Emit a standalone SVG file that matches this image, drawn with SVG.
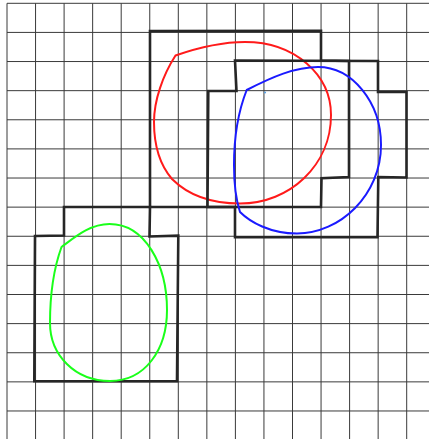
<svg xmlns="http://www.w3.org/2000/svg" width="429" height="439" viewBox="0 0 429 439">
<style>
.grid line{stroke:#3a3a3a;stroke-width:1}
.poly{fill:none;stroke:#262626;stroke-width:2.6;stroke-linejoin:miter}
.curve{fill:none;stroke-width:2}
</style>
<rect width="429" height="439" fill="#ffffff"/>
<g id="grid" class="grid">
<line x1="7" y1="3.3" x2="7" y2="439"/>
<line x1="35.55" y1="3.3" x2="35.55" y2="439"/>
<line x1="64.1" y1="3.3" x2="64.1" y2="439"/>
<line x1="92.65" y1="3.3" x2="92.65" y2="439"/>
<line x1="121.2" y1="3.3" x2="121.2" y2="439"/>
<line x1="149.75" y1="3.3" x2="149.75" y2="439"/>
<line x1="178.3" y1="3.3" x2="178.3" y2="439"/>
<line x1="206.85" y1="3.3" x2="206.85" y2="439"/>
<line x1="235.4" y1="3.3" x2="235.4" y2="439"/>
<line x1="263.95" y1="3.3" x2="263.95" y2="439"/>
<line x1="292.5" y1="3.3" x2="292.5" y2="439"/>
<line x1="321.05" y1="3.3" x2="321.05" y2="439"/>
<line x1="349.6" y1="3.3" x2="349.6" y2="439"/>
<line x1="378.15" y1="3.3" x2="378.15" y2="439"/>
<line x1="406.7" y1="3.3" x2="406.7" y2="439"/>
<line x1="7" y1="3.3" x2="429" y2="3.3"/>
<line x1="7" y1="32.42" x2="429" y2="32.42"/>
<line x1="7" y1="61.54" x2="429" y2="61.54"/>
<line x1="7" y1="90.66" x2="429" y2="90.66"/>
<line x1="7" y1="119.78" x2="429" y2="119.78"/>
<line x1="7" y1="148.9" x2="429" y2="148.9"/>
<line x1="7" y1="178.02" x2="429" y2="178.02"/>
<line x1="7" y1="207.14" x2="429" y2="207.14"/>
<line x1="7" y1="236.26" x2="429" y2="236.26"/>
<line x1="7" y1="265.38" x2="429" y2="265.38"/>
<line x1="7" y1="294.5" x2="429" y2="294.5"/>
<line x1="7" y1="323.62" x2="429" y2="323.62"/>
<line x1="7" y1="352.74" x2="429" y2="352.74"/>
<line x1="7" y1="381.86" x2="429" y2="381.86"/>
<line x1="7" y1="410.98" x2="429" y2="410.98"/>
</g>
<g id="region-red">
<polygon class="poly" points="150,31 321,30.7 321,60.5 349,61 349,177 321.5,178.3 321,207 150,207"/>
<path class="curve" stroke="#ff1a1a" d="M175.5,55.5 C200,47 225,42 245,42 C295,42 331,75 331,115 C331,165 290,203.5 240,203.5 C205,203.5 185,192 172,179 C160,165 154,145 154,122 C154,100 163,75 175.5,55.5 Z"/>
</g>
<g id="region-blue">
<polygon class="poly" points="235,60.5 378,61 378,92 406.5,92 406.5,177.5 378.3,177 377.5,237.3 235,237.3 235,207 207.5,207 208.3,91 236.5,91"/>
<path class="curve" stroke="#1a1aff" d="M246.7,90 C272,77 295,67 318,67 C352,67 381,102 381,145 C381,195 340,233.5 297,233.5 C270,233.5 250,222 240,212 C236,200 234,185 234,165 C234,135 238,112 246.7,90 Z"/>
<circle cx="265" cy="92.5" r="1.1" fill="#5aa0e0"/>
</g>
<g id="region-green">
<polygon class="poly" points="35,236 64,235.5 64,207 150,207 149.5,236.5 178.3,235.7 177,381.3 34.3,381.3"/>
<path class="curve" stroke="#1aff1a" d="M61.5,247 C75,237 90,224 109.5,224 C145,224 167,265 167,310 C167,350 145,381 110,381 C75,381 50,355 50,323 C50,290 55,265 61.5,247 Z"/>
</g>
</svg>
